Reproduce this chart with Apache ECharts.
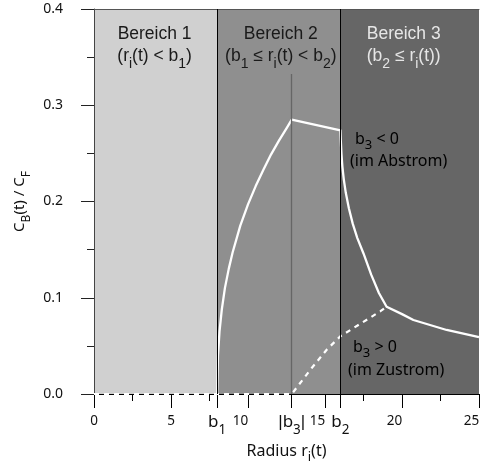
<!DOCTYPE html>
<html><head><meta charset="utf-8">
<script src="https://cdn.jsdelivr.net/npm/echarts@6/dist/echarts.min.js"></script>
<style>html,body{margin:0;padding:0;background:#fff}#c{width:480px;height:465px}</style>
</head><body><div id="c"></div>
<script>
// ---- data ----
const B1 = 8, B3ABS = 12.84, B2 = 16;
const xMin = 0, xMax = 25, xMajorInterval = 5;
const xMinorTicks = [2.5, 7.5, 17.5, 22.5];
const bTickValues = [B1, B3ABS, B2];
const bTickLabels = ['{b|b}{bs|1}', '{bar||}{b|b}{bs|3}{bar||}', '{b|b}{bs|2}'];
const yMin = 0, yMax = 0.4, yInterval = 0.1;
const b3LineTop = 0.3325;

const regionBounds = [[0, B1], [B1, B2], [B2, 25]];
const regionNames = ['Bereich 1', 'Bereich 2', 'Bereich 3'];
const regionConds = [
  '{t|(r}{s|i}{t|(t) < b}{s|1}{t|)}',
  '{t|(b}{s|1}{t| \u2264 r}{s|i}{t|(t) < b}{s|2}{t|)}',
  '{t|(b}{s|2}{t| \u2264 r}{s|i}{t|(t))}'
];
const regionColors = ['#d0d0d0', '#8f8f8f', '#666666'];
const regionTextColors = ['#1a1a1a', '#1a1a1a', '#e6e6e6'];
const regionLabelOffsets = [-1, 2, -6];

// b3 < 0 (im Abstrom): solid curve
const solidX = [8, 8.05, 8.15, 8.3, 8.5, 8.75, 9.0, 9.5, 10.0, 10.5, 11.0, 11.5, 12.0, 12.5, 12.84,
                16.0, 16.03, 16.07, 16.13, 16.22, 16.35, 16.55, 16.8, 17.1, 17.5, 18.0, 18.5, 19.0,
                20.0, 20.74, 22.9, 25];
const solidY = [0, 0.04, 0.065, 0.088, 0.11, 0.13, 0.147, 0.175, 0.197, 0.216, 0.233, 0.249, 0.263, 0.276, 0.285,
                0.274, 0.262, 0.249, 0.236, 0.223, 0.209, 0.193, 0.177, 0.162, 0.146, 0.124, 0.105, 0.0907,
                0.083, 0.0769, 0.0665, 0.059];
// b3 > 0 (im Zustrom): dashed curve
const dashedX = [0, 12.84, 14.14, 15.11, 16.0, 17.3, 18.6, 19.0];
const dashedY = [0, 0, 0.027, 0.046, 0.06, 0.073, 0.086, 0.0907];

// ---- chart ----
const chart = echarts.init(document.getElementById('c'));
const zip = (xs, ys) => xs.map((x, i) => [x, ys[i]]);
const MAIN = 'Noto Sans';
const REG = 'Liberation Sans';

function regionRich(color) {
  return {
    t: { fontFamily: REG, fontSize: 17.5, lineHeight: 22, verticalAlign: 'top', color: color },
    s: { fontFamily: REG, fontSize: 14, lineHeight: 16, padding: [10, 0, 0, 0], verticalAlign: 'top', color: color }
  };
}

const areaData = regionBounds.map((r, i) => [
  {
    xAxis: r[0], yAxis: yMin,
    itemStyle: { color: regionColors[i], opacity: 1 },
    label: {
      show: true, position: 'insideTop', distance: 16, offset: [regionLabelOffsets[i], 0],
      formatter: '{t|' + regionNames[i] + '}\n' + regionConds[i],
      rich: regionRich(regionTextColors[i])
    }
  },
  { xAxis: r[1], yAxis: yMax }
]);

const annRich = {
  m: { fontFamily: MAIN, fontSize: 16, lineHeight: 18, verticalAlign: 'top', color: '#e6e6e6' },
  s: { fontFamily: MAIN, fontSize: 13, lineHeight: 14, padding: [8, 0, 0, 0], verticalAlign: 'top', color: '#e6e6e6' }
};

const option = {
  animation: false,
  backgroundColor: '#fff',
  grid: { left: 94, right: 1, top: 9, bottom: 71, containLabel: false, outerBoundsMode: 'none' },
  xAxis: [
    {
      type: 'value', position: 'bottom', min: xMin, max: xMax, interval: xMajorInterval, z: 2,
      axisLine: { show: true, onZero: false, lineStyle: { color: '#000', width: 1 } },
      axisTick: { show: true, length: 14, lineStyle: { color: '#000' } },
      splitLine: { show: false },
      axisLabel: {
        margin: 20, color: '#111', fontFamily: MAIN, fontSize: 13.5,
        formatter: v => (v < 10 ? '{n|' + v + '}' : '{n|' + v + '}{sp|}'),
        rich: { n: { fontFamily: MAIN, fontSize: 13.5, color: '#111' }, sp: { width: 15 } }
      },
      name: '{n|Radius r}{ns|i}{n|(t)}', nameLocation: 'middle', nameGap: 49,
      nameTextStyle: {
        rich: {
          n: { fontFamily: MAIN, fontSize: 16, lineHeight: 18, verticalAlign: 'top', color: '#111' },
          ns: { fontFamily: MAIN, fontSize: 13, lineHeight: 14, padding: [8, 0, 0, 0], verticalAlign: 'top', color: '#111' }
        }
      }
    },
    {
      type: 'value', position: 'bottom', min: xMin, max: xMax, z: 2,
      axisLine: { show: false },
      axisTick: { show: true, customValues: bTickValues, length: 14, lineStyle: { color: '#000' } },
      splitLine: { show: false },
      axisLabel: {
        show: true, customValues: bTickValues, margin: 20,
        formatter: v => {
          let best = 0;
          bTickValues.forEach((b, i) => { if (Math.abs(b - v) < Math.abs(bTickValues[best] - v)) best = i; });
          return bTickLabels[best];
        },
        rich: {
          b: { fontFamily: MAIN, fontSize: 17, lineHeight: 18, verticalAlign: 'top', color: '#111' },
          bar: { fontFamily: REG, fontSize: 17, lineHeight: 18, verticalAlign: 'top', color: '#111' },
          bs: { fontFamily: MAIN, fontSize: 13.5, lineHeight: 14, padding: [9, 0, 0, 0], verticalAlign: 'top', color: '#111' }
        }
      }
    },
    {
      type: 'value', position: 'bottom', min: xMin, max: xMax, z: 2,
      axisLine: { show: false },
      axisTick: { show: true, customValues: xMinorTicks, length: 7, lineStyle: { color: '#000' } },
      axisLabel: { show: false },
      splitLine: { show: false }
    },
    {
      type: 'value', position: 'top', min: xMin, max: xMax, z: 2,
      axisLine: { show: true, onZero: false, lineStyle: { color: '#555', width: 1 } },
      axisTick: { show: false }, axisLabel: { show: false }, splitLine: { show: false }
    }
  ],
  yAxis: {
    type: 'value', min: yMin, max: yMax, interval: yInterval, position: 'left', z: 2,
    axisLine: { show: true, onZero: false, lineStyle: { color: '#444', width: 1 } },
    axisTick: { show: true, length: 13, lineStyle: { color: '#222' } },
    minorTick: { show: true, splitNumber: 2, length: 7, lineStyle: { color: '#222' } },
    splitLine: { show: false }, minorSplitLine: { show: false },
    axisLabel: { margin: 31, fontFamily: MAIN, fontSize: 14, color: '#111', formatter: v => v.toFixed(1) },
    name: '{n|C}{ns|B}{n|(t) / C}{ns|F}', nameLocation: 'middle', nameRotate: 90, nameGap: 47,
    nameTextStyle: {
      rich: {
        n: { fontFamily: MAIN, fontSize: 15, lineHeight: 17, verticalAlign: 'top', color: '#111' },
        ns: { fontFamily: MAIN, fontSize: 12, lineHeight: 13, padding: [8, 0, 0, 0], verticalAlign: 'top', color: '#111' }
      }
    }
  },
  series: [
    {
      name: 'regions', type: 'line', data: [], z: 1, silent: true, symbol: 'none',
      markArea: { silent: true, data: areaData }
    },
    {
      name: 'bounds', type: 'line', data: [], z: 2, silent: true, symbol: 'none',
      markLine: {
        silent: true, symbol: 'none', label: { show: false },
        data: [
          { xAxis: B1, lineStyle: { color: '#000', width: 1, type: 'solid' } },
          { xAxis: B2, lineStyle: { color: '#000', width: 1, type: 'solid' } },
          [ { coord: [B3ABS, yMin], lineStyle: { color: '#666', width: 1.3, type: 'solid' } }, { coord: [B3ABS, b3LineTop] } ]
        ]
      }
    },
    {
      name: 'b3 > 0', type: 'line', data: zip(dashedX, dashedY), z: 3, symbol: 'none', clip: false,
      lineStyle: { color: '#fff', width: 2.2, type: [5, 5] }
    },
    {
      name: 'b3 < 0', type: 'line', data: zip(solidX, solidY), z: 4, symbol: 'none', clip: false,
      lineStyle: { color: '#fff', width: 2.3, join: 'round' }
    }
  ],
  graphic: [
    { type: 'text', left: 355, top: 131, z: 10, style: { text: '{m|b}{s|3}{m| < 0}', rich: annRich } },
    { type: 'text', left: 350, top: 153, z: 10, style: { text: '{m|(im Abstrom)}', rich: annRich } },
    { type: 'text', left: 353, top: 339, z: 10, style: { text: '{m|b}{s|3}{m| > 0}', rich: annRich } },
    { type: 'text', left: 348, top: 362, z: 10, style: { text: '{m|(im Zustrom)}', rich: annRich } }
  ]
};
chart.setOption(option);
</script>
</body></html>
